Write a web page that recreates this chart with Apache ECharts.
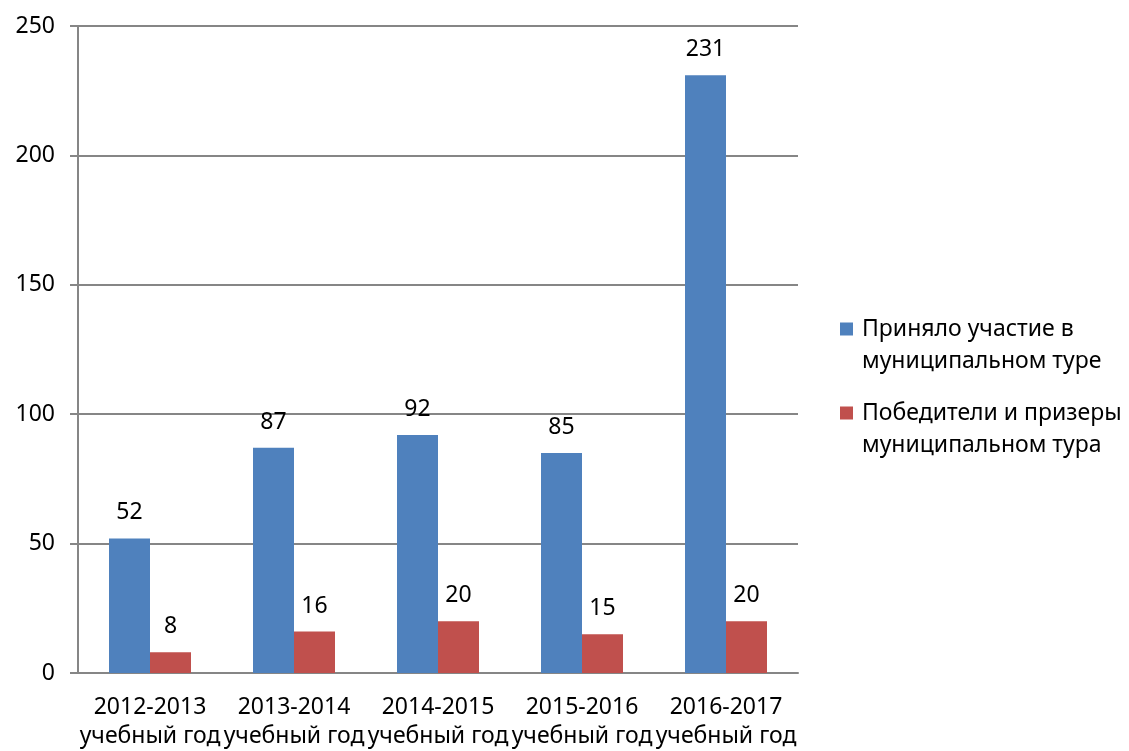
<!DOCTYPE html>
<html>
<head>
<meta charset="utf-8">
<script src="https://cdn.jsdelivr.net/npm/echarts@6/dist/echarts.min.js"></script>
<style>
  html, body { margin: 0; padding: 0; background: #fff; }
  #chart { width: 1129px; height: 751px; }
</style>
</head>
<body>
<div id="chart"></div>
<script>
// учебные годы
var years = ['2012-2013', '2013-2014', '2014-2015', '2015-2016', '2016-2017']
var participated = [52, 87, 92, 85, 231]
var winners = [8, 16, 20, 15, 20]
var seriesNames = ['Приняло участие в муниципальном туре', 'Победители и призеры муниципальном тура']
// как подписи разбиты по строкам в легенде
var legendLines = {
  'Приняло участие в муниципальном туре': 'Приняло участие в\nмуниципальном туре',
  'Победители и призеры муниципальном тура': 'Победители и призеры\nмуниципальном тура'
}

var font = 'Noto Sans'
var fontSize = 23
var chart = echarts.init(document.getElementById('chart'))

var labelStyle = {
  show: true,
  position: 'top',
  distance: 14,
  color: '#000',
  fontFamily: font,
  fontSize: fontSize
}

// по одной легенде на серию, чтобы значок стоял у первой строки
function makeLegend(name, top) {
  return {
    orient: 'vertical',
    left: 835,
    top: top,
    itemWidth: 13,
    itemHeight: 13,
    icon: 'rect',
    data: [name],
    formatter: function(n) {
      // пустая первая строка сдвигает текст вниз на строку
      return '\n' + legendLines[n]
    },
    textStyle: {
      color: '#000',
      fontFamily: font,
      fontSize: fontSize,
      lineHeight: 32,
      padding: [0, 0, 0, 4]
    }
  }
}

chart.setOption({
  animation: false,
  textStyle: { fontFamily: font },
  grid: {
    left: 78,
    right: 331,
    top: 26,
    bottom: 78,
    outerBoundsMode: 'none'
  },
  legend: [makeLegend(seriesNames[0], 276), makeLegend(seriesNames[1], 360)],
  xAxis: {
    type: 'category',
    data: years,
    axisLine: { lineStyle: { color: '#868686', width: 2 } },
    axisTick: { length: 8, lineStyle: { color: '#868686', width: 2 } },
    axisLabel: {
      interval: 0,
      margin: 20,
      color: '#000',
      fontFamily: font,
      fontSize: fontSize,
      lineHeight: 29,
      formatter: function(value) {
        return value + '\nучебный год'
      }
    }
  },
  yAxis: {
    type: 'value',
    min: 0,
    max: 250,
    interval: 50,
    axisLine: { show: true, lineStyle: { color: '#868686', width: 2 } },
    axisTick: { show: true, length: 8, lineStyle: { color: '#868686', width: 2 } },
    splitLine: { lineStyle: { color: '#868686', width: 2 } },
    axisLabel: {
      margin: 23,
      color: '#000',
      fontFamily: font,
      fontSize: fontSize
    }
  },
  series: [{
    name: seriesNames[0],
    type: 'bar',
    data: participated,
    barWidth: 41,
    barGap: '0%',
    itemStyle: { color: '#4F81BD' },
    label: labelStyle
  }, {
    name: seriesNames[1],
    type: 'bar',
    data: winners,
    barWidth: 41,
    barGap: '0%',
    itemStyle: { color: '#C0504D' },
    label: labelStyle
  }]
})
</script>
</body>
</html>
